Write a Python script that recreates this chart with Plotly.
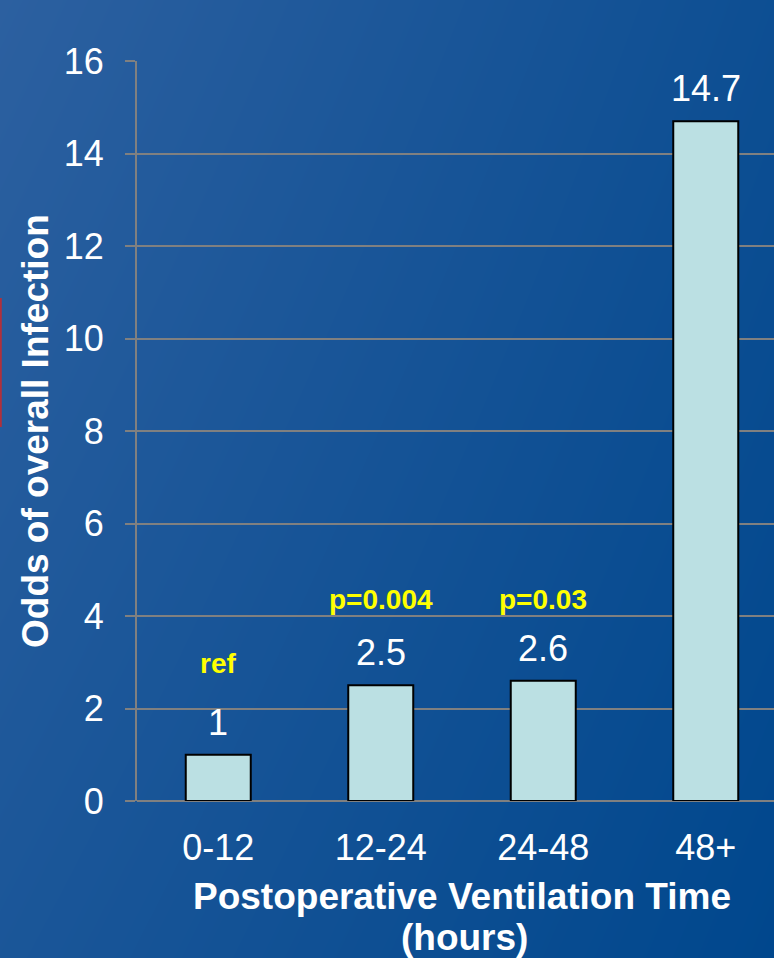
import plotly.graph_objects as go

# Odds of overall infection by postoperative ventilation time
categories = ["0-12", "12-24", "24-48", "48+"]
odds = [1, 2.5, 2.6, 14.7]
value_labels = ["1", "2.5", "2.6", "14.7"]
p_labels = ["ref", "p=0.004", "p=0.03", "p<0.001"]
p_label_y = [2.98, 4.35, 4.35, 16.78]
y_ticks = [0, 2, 4, 6, 8, 10, 12, 14, 16]

W, H = 774, 958
L, R, T, B = 137, 0, 61, 157
FONT = "Arial, Liberation Sans, sans-serif"

fig = go.Figure()

# slide-style diagonal blue backdrop
fig.add_trace(go.Heatmap(
    z=[[0.6, 0.0], [1.0, 0.3]], x=[0, 1], y=[0, 1],
    zsmooth="best", showscale=False, hoverinfo="skip",
    colorscale=[[0, "#00478d"], [1, "#2c60a0"]], zmin=0, zmax=1,
    xaxis="x", yaxis="y",
))

fig.add_trace(go.Bar(
    x=categories, y=odds, width=0.4,
    marker=dict(color="#bbe0e3", line=dict(color="#000000", width=2)),
    xaxis="x2", yaxis="y2", hoverinfo="skip",
))

annotations = []
for c, v, t in zip(categories, odds, value_labels):
    annotations.append(dict(
        x=c, y=v, xref="x2", yref="y2", text=t, showarrow=False,
        yanchor="bottom", yshift=10,
        font=dict(family=FONT, size=36, color="white"),
    ))
for c, py, t in zip(categories, p_label_y, p_labels):
    annotations.append(dict(
        x=c, y=py, xref="x2", yref="y2", text="<b>%s</b>" % t, showarrow=False,
        yanchor="middle",
        font=dict(family=FONT, size=28, color="#ffff00"),
    ))
# x-axis title, two lines
annotations.append(dict(
    x=462 / W, y=1 - 896 / H, xref="paper", yref="paper",
    text="<b>Postoperative Ventilation Time</b>", showarrow=False,
    yanchor="middle", xanchor="center",
    font=dict(family=FONT, size=37, color="white"),
))
annotations.append(dict(
    x=464 / W, y=1 - 937 / H, xref="paper", yref="paper",
    text="<b>(hours)</b>", showarrow=False,
    yanchor="middle", xanchor="center",
    font=dict(family=FONT, size=37, color="white"),
))
annotations.append(dict(
    x=36 / W, y=1 - 431 / H, xref="paper", yref="paper",
    text="<b>Odds of overall Infection</b>", showarrow=False, textangle=-90,
    yanchor="middle", xanchor="center",
    font=dict(family=FONT, size=37, color="white"),
))

fig.update_layout(
    width=W, height=H,
    margin=dict(l=0, r=0, t=0, b=0, autoexpand=False),
    paper_bgcolor="#1a5599", plot_bgcolor="rgba(0,0,0,0)",
    showlegend=False,
    xaxis=dict(domain=[0, 1], range=[0, 1], visible=False, fixedrange=True,
               automargin=False),
    yaxis=dict(domain=[0, 1], range=[0, 1], visible=False, fixedrange=True,
               automargin=False),
    xaxis2=dict(
        domain=[L / W, 1], anchor="y2", range=[-0.5, 3.42],
        showline=False, showgrid=False, ticks="", automargin=False,
        tickfont=dict(family=FONT, size=36, color="white"),
        ticklabelstandoff=22,
    ),
    yaxis2=dict(
        domain=[B / H, 1 - T / H], anchor="x2", range=[0, 16],
        tickvals=y_ticks, ticks="outside", ticklen=10, tickwidth=2,
        tickcolor="#808080", showline=True, linecolor="#808080", linewidth=2,
        showgrid=True, gridcolor="#808080", gridwidth=2,
        zeroline=True, zerolinecolor="#808080", zerolinewidth=2,
        tickfont=dict(family=FONT, size=36, color="white"),
        ticklabelstandoff=14, automargin=False,
    ),
    annotations=annotations,
    shapes=[dict(
        type="line", xref="paper", yref="paper",
        x0=0.001, x1=0.001, y0=1 - 298 / H, y1=1 - 427 / H,
        line=dict(color="#b0303c", width=2),
    )],
)

fig.write_html("out.html")
